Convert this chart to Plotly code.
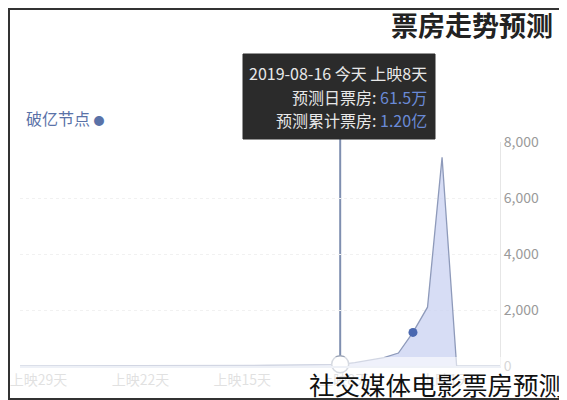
import plotly.graph_objects as go

# 上映天数 (negative = before release) and predicted daily box office (万)
days = list(range(-3, 31))
daily_box = [0, 0, 0, 0, 7450, 2100, 1200, 464, 300, 200, 120, 61.5,
             50, 42, 36, 31, 27, 23, 20, 17, 15, 13, 11, 10, 9, 8, 7,
             6, 5, 5, 4, 4, 3, 3]

tick_days = [1, 8, 15, 22, 29]
tick_text = ["上映%d天" % d for d in tick_days]
y_ticks = [0, 2000, 4000, 6000, 8000]

today = 8
break_day = 3  # 破亿节点
tip_lines = [
    ("2019-08-16 今天 上映8天", ""),
    ("预测日票房: ", "61.5万"),
    ("预测累计票房: ", "1.20亿"),
]

FONT = "Noto Sans CJK SC"

# the page body adds an 8px margin, so the figure is shrunk by that much
OFF = 8
W, H = 567 - OFF, 400 - OFF
# plot area in page pixels
L, R, T, B = 20, 500, 142, 366


def px(x):
    return (x - L) / (R - L)


def py(y):
    return (B - y) / (B - T)


fig = go.Figure()
fig.add_trace(go.Scatter(
    x=days, y=daily_box, mode="lines",
    line=dict(color="#8e9aba", width=1.3),
    fill="tozeroy", fillcolor="rgba(205,213,242,0.8)",
    hoverinfo="skip",
))
fig.add_trace(go.Scatter(
    x=[break_day], y=[daily_box[days.index(break_day)]], mode="markers",
    marker=dict(color="#4a68b0", size=9),
    hoverinfo="skip",
))
fig.add_trace(go.Scatter(
    x=[today], y=[daily_box[days.index(today)]], mode="markers",
    marker=dict(color="white", size=17, line=dict(color="#9aa3b5", width=1.5)),
    hoverinfo="skip", cliponaxis=False,
))

shapes = [
    # crosshair
    dict(type="line", xref="x", yref="paper", x0=today, x1=today,
         y0=0, y1=py(139), line=dict(color="#7f8fb0", width=2), layer="below"),
    # tooltip box
    dict(type="rect", xref="paper", yref="paper",
         x0=px(243), x1=px(435), y0=py(139), y1=py(54),
         fillcolor="#2b2b2b", line=dict(color="#2b2b2b", width=1), layer="above"),
    # faded bottom strip
    dict(type="rect", xref="paper", yref="paper",
         x0=px(0), x1=px(567), y0=py(400), y1=py(357),
         fillcolor="rgba(255,255,255,0.6)", line=dict(width=0), layer="above"),
    # outer frame
    dict(type="rect", xref="paper", yref="paper",
         x0=px(OFF + 1), x1=px(566), y0=py(399), y1=py(OFF + 1),
         line=dict(color="#333333", width=2), layer="above"),
]

annotations = [
    dict(text="<b>票房走势预测</b>", x=px(555), y=py(24), xanchor="right",
         yanchor="middle", font=dict(size=27, color="#222222")),
    dict(text="破亿节点 <span style='font-size:11px'>●</span>", x=px(24), y=py(118),
         xanchor="left", yanchor="middle", font=dict(size=16, color="#5a72a8")),
    dict(text="社交媒体电影票房预测", x=px(566), y=py(383), xanchor="right",
         yanchor="middle", font=dict(size=25.5, color="#111111")),
]
for i, (label, value) in enumerate(tip_lines):
    txt = label
    if value:
        txt += "<span style='color:#6a8ad6'>%s</span>" % value
    annotations.append(dict(
        text=txt, x=px(429), y=py(73 + i * 23.5), xanchor="right",
        yanchor="middle", font=dict(size=16, color="#e8e8e8")))

for a in annotations:
    a.update(xref="paper", yref="paper", showarrow=False)

fig.update_layout(
    width=W, height=H,
    margin=dict(l=L - OFF, r=567 - R, t=T - OFF, b=400 - B),
    paper_bgcolor="white", plot_bgcolor="white",
    font=dict(family=FONT),
    showlegend=False,
    shapes=shapes,
    annotations=annotations,
    xaxis=dict(
        range=[30, -2.98], tickvals=tick_days, ticktext=tick_text,
        showgrid=False, zeroline=False, showline=True,
        linecolor="#d5dbeb", linewidth=2, ticks="",
        tickfont=dict(size=14, color="#b5b5b5"), ticklabelshift=-4,
        ticklabeloverflow="allow", automargin=False,
    ),
    yaxis=dict(
        range=[0, 8000], side="right", tickvals=y_ticks, tickformat=",",
        showgrid=True, gridcolor="#f1f1f1", griddash="dot", zeroline=False,
        showline=True, linecolor="#e6e6e6", ticks="", automargin=False,
        tickfont=dict(size=14, color="#9a9a9a"),
    ),
)

fig.write_html("out.html")
